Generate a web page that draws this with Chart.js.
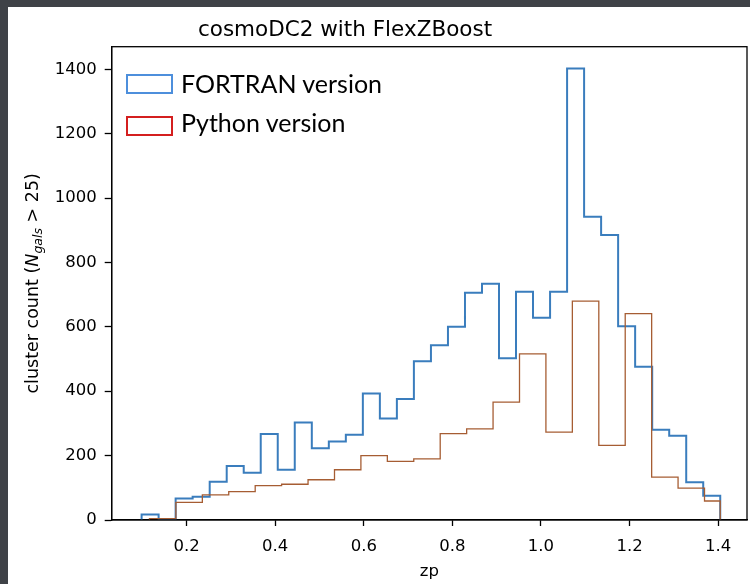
<!DOCTYPE html>
<html>
<head>
<meta charset="utf-8">
<script src="https://cdn.jsdelivr.net/npm/chart.js@4/dist/chart.umd.min.js"></script>
<style>
  html, body { margin: 0; padding: 0; }
  body { width: 750px; height: 584px; background: #3f4247; position: relative; overflow: hidden; }
  .sheet { position: absolute; left: 8px; top: 7px; right: 0; bottom: 0; background: #fff; }
  #chart { position: absolute; left: 0; top: 0; }
  .legend-box { position: absolute; width: 43px; height: 16px; background: #fff; }
  .legend-text { position: absolute; font: 25px Lato, "Open Sans", sans-serif; line-height: 25px; color: #000; white-space: nowrap; }
</style>
</head>
<body>
<div class="sheet"></div>
<canvas id="chart" width="750" height="584"></canvas>
<div class="legend-box" style="left:126px; top:74px; border:2px solid #4d8fdc;"></div>
<div class="legend-text" style="left:181px; top:71px;">FORTRAN version</div>
<div class="legend-box" style="left:126px; top:116px; border:2px solid #d41f1f;"></div>
<div class="legend-text" style="left:181px; top:110px;">Python version</div>
<script>
const fortranEdges = [0.0985, 0.1369, 0.1753, 0.2137, 0.2522, 0.2906, 0.3290, 0.3674, 0.4058, 0.4442,
  0.4827, 0.5211, 0.5595, 0.5979, 0.6363, 0.6747, 0.7131, 0.7516, 0.7900, 0.8284, 0.8668, 0.9052,
  0.9436, 0.9820, 1.0205, 1.0589, 1.0973, 1.1357, 1.1741, 1.2125, 1.2510, 1.2894, 1.3278, 1.3662, 1.4046];
const fortranCounts = [17, 3, 67, 72, 119, 168, 147, 267, 156, 303, 223, 244, 265, 393, 315, 376, 493,
  543, 600, 706, 734, 502, 709, 628, 709, 1402, 942, 885, 602, 476, 280, 262, 117, 75];

const pythonEdges = [0.1162, 0.1759, 0.2356, 0.2952, 0.3549, 0.4145, 0.4742, 0.5339, 0.5935, 0.6532,
  0.7128, 0.7725, 0.8322, 0.8918, 0.9515, 1.0111, 1.0708, 1.1305, 1.1901, 1.2498, 1.3094, 1.3691, 1.4046];
const pythonCounts = [4, 55, 78, 88, 107, 111, 125, 156, 200, 182, 190, 268, 283, 366, 516, 273, 680,
  232, 641, 133, 99, 59];

const xTicks = [0.2, 0.4, 0.6, 0.8, 1.0, 1.2, 1.4];
const yTicks = [0, 200, 400, 600, 800, 1000, 1200, 1400];

const FONT = "'DejaVu Sans', sans-serif";

// step outline like matplotlib histtype="step"
function stepPoints(edges, counts) {
  const pts = [{ x: edges[0], y: 0 }];
  counts.forEach((c, i) => pts.push({ x: edges[i], y: c }));
  pts.push({ x: edges[edges.length - 1], y: 0 });
  return pts;
}

const decorations = {
  id: "decorations",
  afterDraw(chart) {
    const { ctx, chartArea: a } = chart;
    ctx.save();
    ctx.strokeStyle = "#000";
    ctx.lineWidth = 1.3;
    ctx.strokeRect(a.left, a.top, a.right - a.left, a.bottom - a.top);

    ctx.fillStyle = "#000";
    ctx.textAlign = "center";
    ctx.textBaseline = "alphabetic";
    ctx.font = `21.5px ${FONT}`;
    ctx.fillText("cosmoDC2 with FlexZBoost", 345, 36);

    ctx.font = `16.5px ${FONT}`;
    ctx.fillText("zp", (a.left + a.right) / 2, 576);

    // y label with mathtext-like subscript
    const parts = [
      { t: "cluster count (", f: `17.5px ${FONT}`, dy: 0 },
      { t: "N", f: `italic 17.5px ${FONT}`, dy: 0 },
      { t: "gals", f: `italic 12.5px ${FONT}`, dy: 3.8 },
      { t: " > 25)", f: `17.5px ${FONT}`, dy: 0 },
    ];
    let total = 0;
    parts.forEach((p) => { ctx.font = p.f; p.w = ctx.measureText(p.t).width; total += p.w; });
    ctx.translate(38, (a.top + a.bottom) / 2);
    ctx.rotate(-Math.PI / 2);
    ctx.textAlign = "left";
    let x = -total / 2;
    parts.forEach((p) => { ctx.font = p.f; ctx.fillText(p.t, x, p.dy); x += p.w; });
    ctx.restore();
  },
};

new Chart(document.getElementById("chart"), {
  type: "line",
  data: {
    datasets: [
      { label: "Python version", data: stepPoints(pythonEdges, pythonCounts), borderColor: "#a65d33", borderWidth: 1.3, order: 0 },
      { label: "FORTRAN version", data: stepPoints(fortranEdges, fortranCounts), borderColor: "#3a7dbd", borderWidth: 2, order: 1 },
    ],
  },
  options: {
    responsive: false,
    devicePixelRatio: 1,
    animation: false,
    layout: { padding: { top: 46.7, right: 3, left: 0, bottom: 0 } },
    elements: { point: { radius: 0 }, line: { stepped: "before", fill: false, tension: 0, borderJoinStyle: "miter" } },
    plugins: { legend: { display: false }, tooltip: { enabled: false }, title: { display: false } },
    scales: {
      x: {
        type: "linear",
        min: 0.031,
        max: 1.465,
        afterFit: (s) => { s.height = 64; },
        afterBuildTicks: (s) => { s.ticks = xTicks.map((v) => ({ value: v })); },
        grid: { drawOnChartArea: false, tickLength: 6, tickColor: "#000", tickWidth: 1.3 },
        border: { color: "#000", width: 1.3 },
        ticks: { color: "#000", font: { family: FONT, size: 16.5 }, padding: 11, maxRotation: 0, callback: (v) => v.toFixed(1) },
      },
      y: {
        min: 0,
        max: 1470,
        afterFit: (s) => { s.width = 111.7; },
        afterBuildTicks: (s) => { s.ticks = yTicks.map((v) => ({ value: v })); },
        grid: { drawOnChartArea: false, tickLength: 7, tickColor: "#000", tickWidth: 1.3 },
        border: { color: "#000", width: 1.3 },
        ticks: { color: "#000", font: { family: FONT, size: 16.5 }, padding: 8, callback: (v) => String(v) },
      },
    },
  },
  plugins: [decorations],
});
</script>
</body>
</html>
